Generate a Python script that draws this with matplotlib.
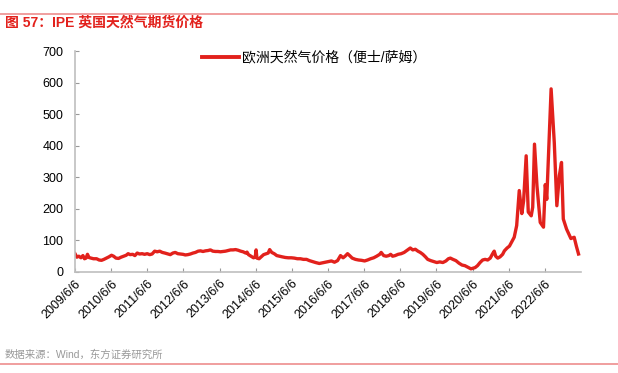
import pandas as pd
import matplotlib
matplotlib.use("Agg")
import matplotlib.pyplot as plt
from matplotlib.lines import Line2D

plt.rcParams['font.family'] = ['Liberation Sans', 'Noto Sans CJK SC']
plt.rcParams['axes.unicode_minus'] = False

# ------------------------------
# DATA
# ------------------------------
dates = [
    "2009-06-06", "2009-06-25", "2009-07-15", "2009-08-05", "2009-08-25", "2009-09-10",
    "2009-09-25", "2009-10-10", "2009-10-25", "2009-11-15", "2009-12-10", "2010-01-10",
    "2010-02-05", "2010-03-01", "2010-03-25", "2010-04-20", "2010-05-15", "2010-06-10",
    "2010-07-01", "2010-07-25", "2010-08-20", "2010-09-15", "2010-10-10", "2010-11-05",
    "2010-11-25", "2010-12-15", "2011-01-10", "2011-02-01", "2011-02-25", "2011-03-20",
    "2011-04-15", "2011-05-10", "2011-06-06", "2011-07-01", "2011-07-25", "2011-08-20",
    "2011-09-15", "2011-10-10", "2011-11-05", "2011-12-01", "2012-01-01", "2012-01-25",
    "2012-02-20", "2012-03-15", "2012-04-10", "2012-05-05", "2012-06-01", "2012-06-25",
    "2012-07-20", "2012-08-15", "2012-09-10", "2012-10-05", "2012-11-01", "2012-11-25",
    "2012-12-20", "2013-01-15", "2013-02-10", "2013-03-05", "2013-03-30", "2013-04-25",
    "2013-05-20", "2013-06-15", "2013-07-10", "2013-08-05", "2013-09-01", "2013-09-25",
    "2013-10-20", "2013-11-15", "2013-12-10", "2014-01-05", "2014-01-30", "2014-02-25",
    "2014-03-10", "2014-03-25", "2014-04-20", "2014-05-15", "2014-06-01", "2014-06-10",
    "2014-06-18", "2014-07-10", "2014-08-01", "2014-08-25", "2014-09-20", "2014-10-10",
    "2014-10-25", "2014-11-15", "2014-12-10", "2015-01-05", "2015-02-01", "2015-03-01",
    "2015-04-01", "2015-05-01", "2015-06-01", "2015-07-01", "2015-08-01", "2015-09-01",
    "2015-10-01", "2015-11-01", "2015-12-01", "2016-01-01", "2016-02-01", "2016-03-10",
    "2016-04-10", "2016-05-10", "2016-06-10", "2016-07-10", "2016-08-10", "2016-09-10",
    "2016-10-10", "2016-11-05", "2016-11-25", "2016-12-20", "2017-01-10", "2017-02-05",
    "2017-03-10", "2017-04-10", "2017-05-10", "2017-06-10", "2017-07-10", "2017-08-10",
    "2017-09-10", "2017-10-10", "2017-11-10", "2017-11-25", "2017-12-20", "2018-01-15",
    "2018-02-10", "2018-03-01", "2018-03-20", "2018-04-15", "2018-05-15", "2018-06-15",
    "2018-07-15", "2018-08-20", "2018-09-15", "2018-10-10", "2018-11-05", "2018-12-01",
    "2018-12-25", "2019-01-20", "2019-02-15", "2019-03-10", "2019-04-10", "2019-05-10",
    "2019-06-10", "2019-07-10", "2019-08-10", "2019-09-10", "2019-10-05", "2019-10-25",
    "2019-11-20", "2019-12-20", "2020-01-20", "2020-02-20", "2020-03-20", "2020-04-20",
    "2020-05-20", "2020-06-10", "2020-07-01", "2020-07-25", "2020-08-20", "2020-09-15",
    "2020-10-10", "2020-11-05", "2020-12-01", "2020-12-25", "2021-01-10", "2021-01-25",
    "2021-02-15", "2021-03-10", "2021-04-05", "2021-04-23", "2021-05-20", "2021-06-13",
    "2021-07-05", "2021-07-31", "2021-08-25", "2021-09-20", "2021-10-16", "2021-11-03",
    "2021-11-29", "2021-12-20", "2022-01-19", "2022-02-03", "2022-02-21", "2022-03-18",
    "2022-04-20", "2022-05-23", "2022-06-10", "2022-06-25", "2022-07-13", "2022-08-08",
    "2022-09-09", "2022-10-05", "2022-10-30", "2022-11-21", "2022-12-09", "2023-01-11",
    "2023-02-24", "2023-03-29", "2023-04-20", "2023-05-12",
]
prices = [
    58, 47, 50, 45, 52, 42,
    44, 56, 46, 44, 42, 42,
    38, 37, 40, 44, 48, 53,
    50, 44, 43, 47, 50, 53,
    58, 55, 56, 52, 60, 57,
    58, 56, 58, 55, 57, 66,
    64, 66, 62, 60, 57, 55,
    60, 62, 58, 57, 56, 54,
    55, 57, 60, 62, 66, 67,
    65, 67, 68, 70, 66, 65,
    65, 64, 65, 66, 68, 70,
    70, 71, 69, 66, 64, 60,
    63, 55, 50, 45, 47, 70,
    44, 42, 48, 55, 58, 60,
    71, 62, 58, 52, 50, 48,
    46, 45, 45, 44, 42, 42,
    40, 40, 36, 33, 30, 27,
    29, 31, 33, 35, 31, 36,
    52, 45, 50, 58, 52, 44,
    40, 38, 37, 35, 38, 42,
    45, 50, 56, 62, 52, 50,
    52, 56, 50, 52, 56, 58,
    62, 70, 76, 70, 72, 66,
    62, 56, 48, 40, 36, 33,
    30, 32, 30, 35, 42, 44,
    40, 36, 28, 22, 20, 15,
    10, 12, 14, 20, 30, 38,
    40, 38, 44, 58, 66, 50,
    44, 48, 56, 67, 76, 82,
    95, 110, 147, 258, 185, 225,
    368, 190, 178, 205, 405, 273,
    157, 142, 277, 230, 372, 580,
    410, 210, 305, 347, 168, 136,
    106, 110, 82, 57,
]
series_label = "欧洲天然气价格（便士/萨姆）"
title_text = "图 57：IPE 英国天然气期货价格"
source_text = "数据来源：Wind，东方证券研究所"
tick_years = list(range(2009, 2023))

RED = "#E2211C"
GRAY = "#BFBFBF"

# ------------------------------
# FIGURE
# ------------------------------
fig = plt.figure(figsize=(6.18, 3.73), dpi=100)
ax = fig.add_axes([75 / 618, 1 - 272 / 373, 506 / 618, 221 / 373])

x = pd.to_datetime(dates)
ax.plot(x, prices, color=RED, linewidth=2.4, solid_joinstyle='round')

ax.set_ylim(0, 700)
ax.set_yticks(range(0, 701, 100))
ax.set_xlim(pd.Timestamp("2009-06-06"), pd.Timestamp("2023-06-06"))
ticks = [pd.Timestamp(f"{y}-06-06") for y in tick_years]
ax.set_xticks(ticks)
ax.set_xticklabels([f"{y}/6/6" for y in tick_years], rotation=45,
                   ha='right', va='top', rotation_mode='anchor')

for side in ('top', 'right'):
    ax.spines[side].set_visible(False)
for side in ('left', 'bottom'):
    ax.spines[side].set_color(GRAY)
    ax.spines[side].set_linewidth(1.2)
ax.tick_params(axis='both', direction='in', length=3, color='#999999',
               labelsize=9, labelcolor='black', width=0.8)
ax.tick_params(axis='y', pad=8.5)
ax.tick_params(axis='x', pad=4)

# --- legend ---
handle = Line2D([], [], color=RED, linewidth=2.8)
ax.legend([handle], [series_label], loc='center', bbox_to_anchor=(0.472, 0.97),
          frameon=False, fontsize=10, handlelength=2.7, handletextpad=0.2)

# --- title, source and rules ---
fig.text(5 / 618, 1 - 23 / 373, title_text, color=RED, fontsize=10,
         fontweight='bold', ha='left', va='center')
fig.text(5 / 618, 1 - 355 / 373, source_text, color='#999999', fontsize=7.5,
         ha='left', va='center')
fig.add_artist(Line2D([0, 1], [1 - 14 / 373, 1 - 14 / 373], color='#EE8E8E',
                      linewidth=1.2, transform=fig.transFigure))
fig.add_artist(Line2D([0, 1], [1 - 364 / 373, 1 - 364 / 373], color='#EE8E8E',
                      linewidth=1.2, transform=fig.transFigure))

fig.savefig("out.png", dpi=100)
